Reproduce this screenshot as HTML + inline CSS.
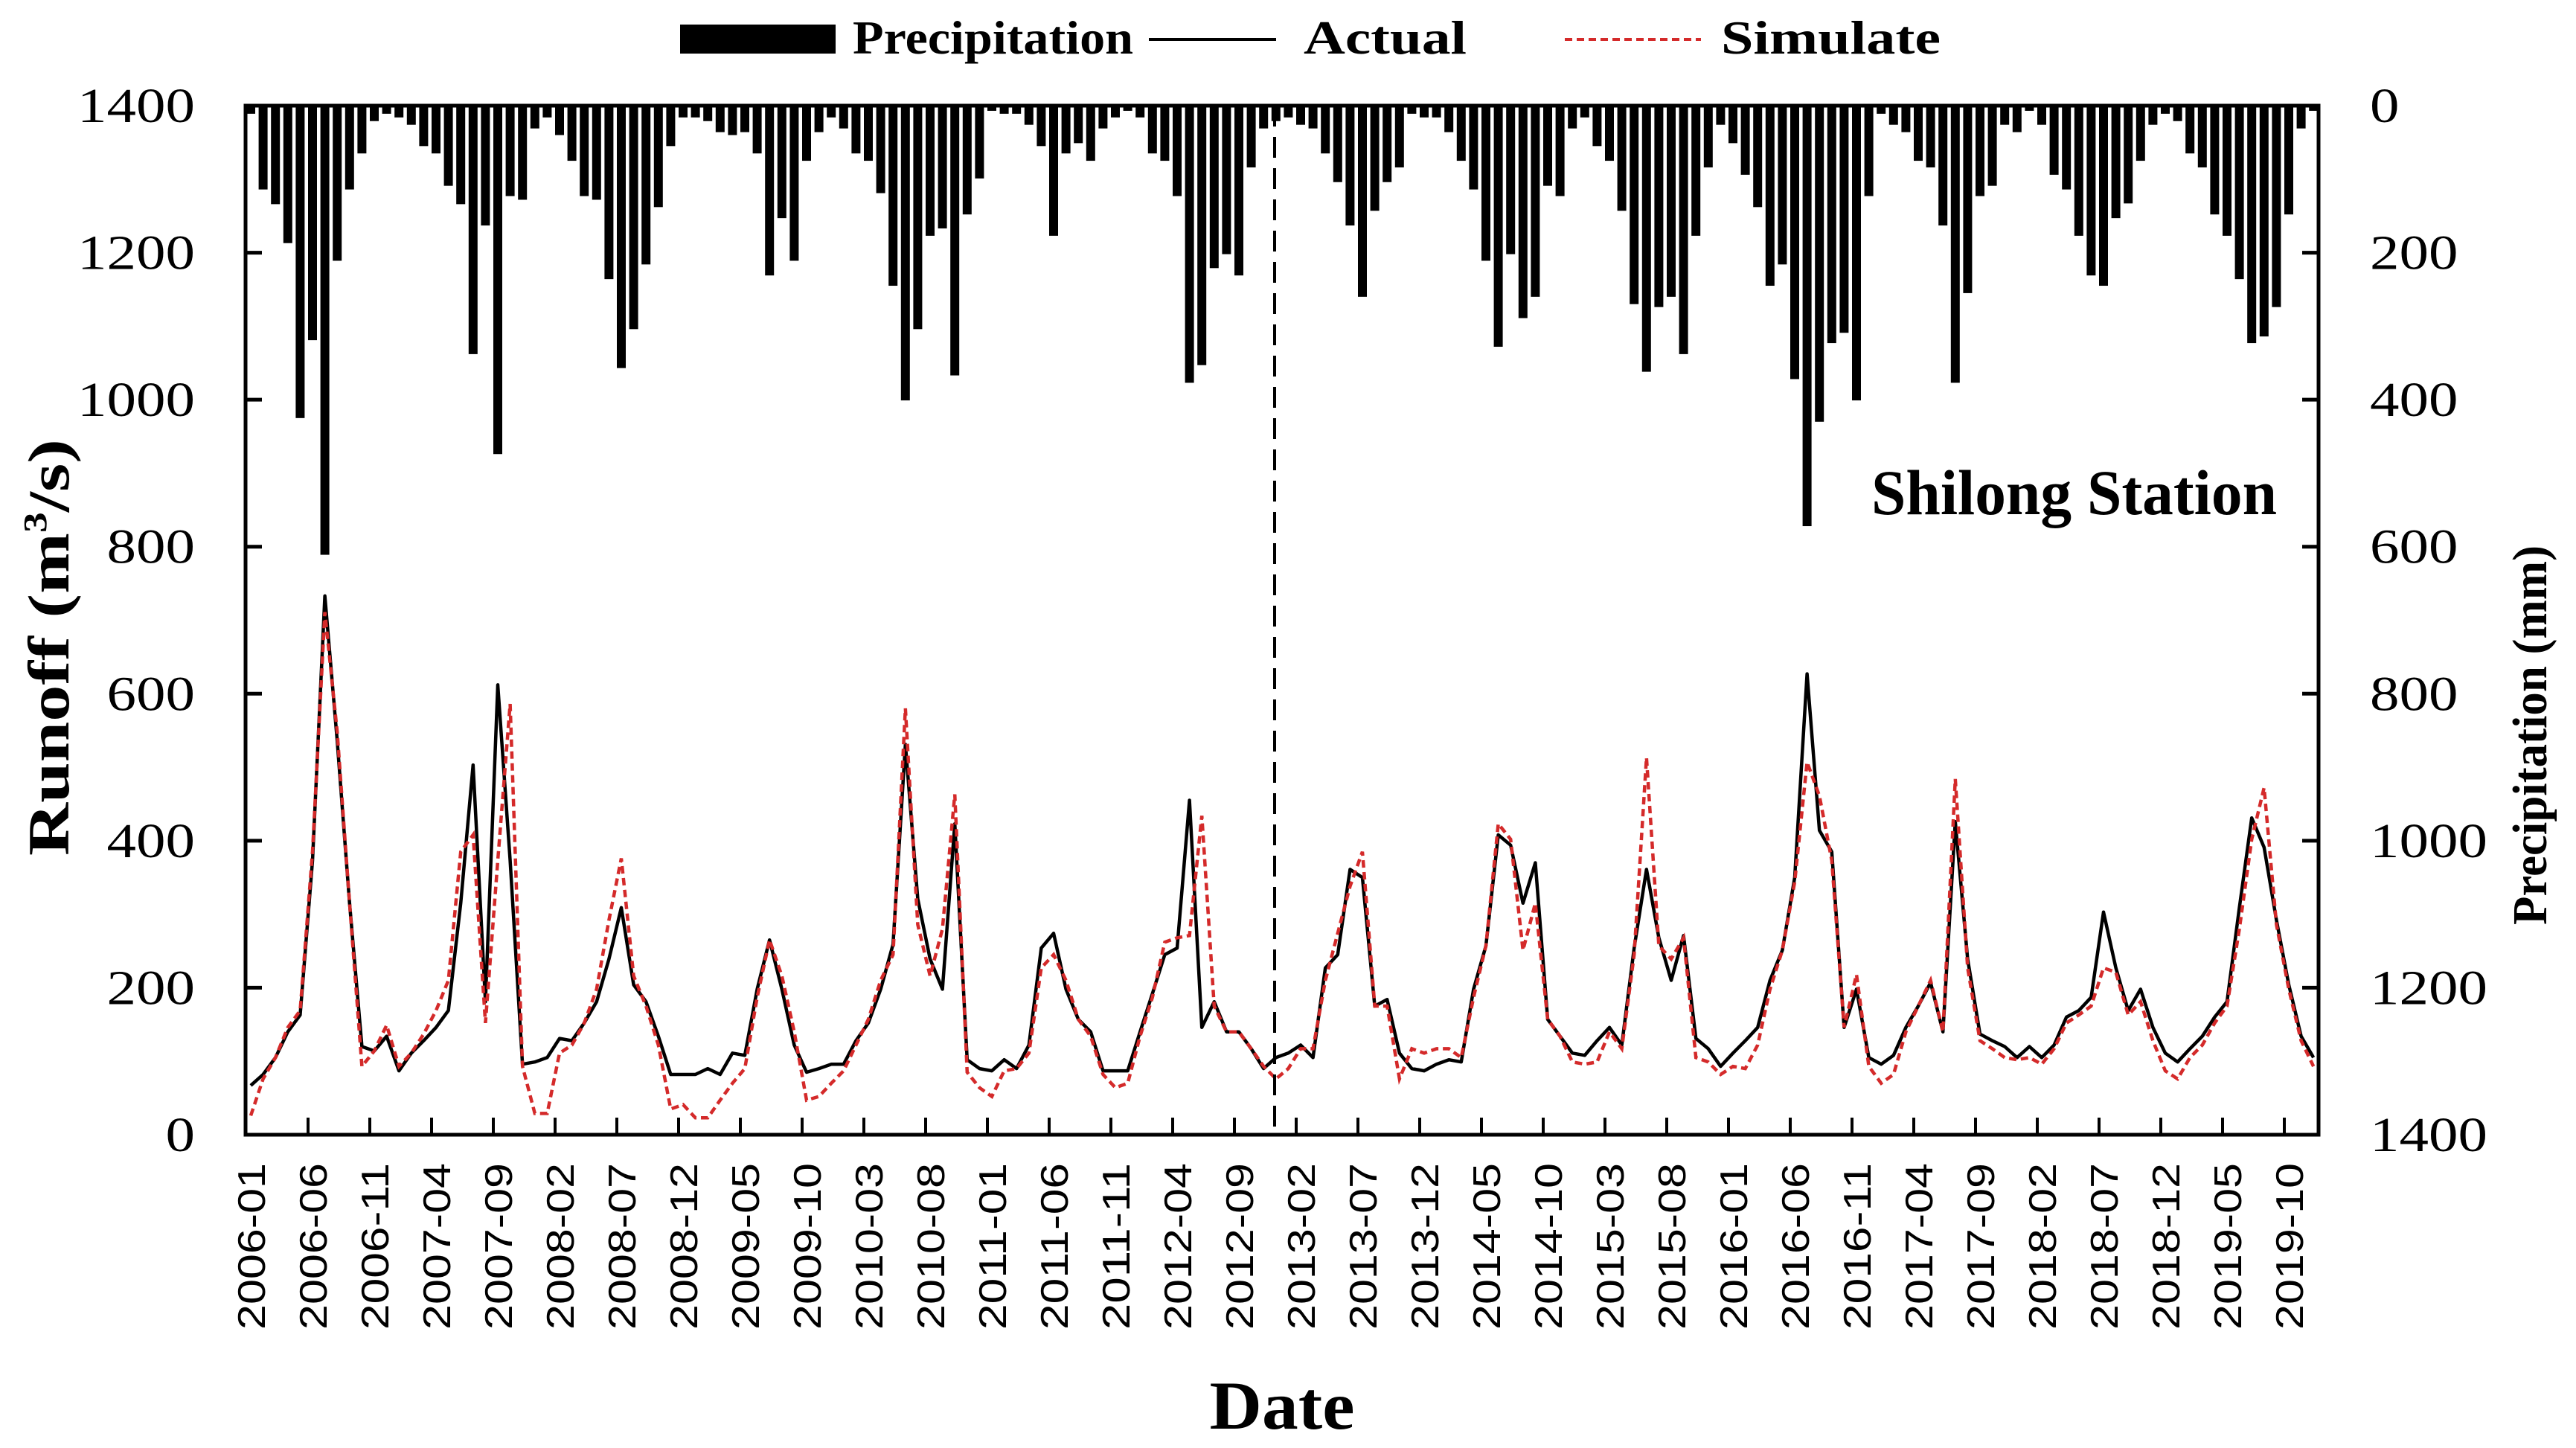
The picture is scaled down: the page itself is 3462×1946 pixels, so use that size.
<!DOCTYPE html>
<html><head><meta charset="utf-8">
<style>
html,body{margin:0;padding:0;background:#fff;}
svg{display:block;}
text{font-family:"Liberation Serif",serif;fill:#000;}
</style></head>
<body>
<svg id="chart" width="3462" height="1946" viewBox="0 0 3462 1946" xmlns="http://www.w3.org/2000/svg">
  <g id="bars"></g>
  <g id="lines"></g>
  <line x1="1713" y1="142" x2="1713" y2="1525" stroke="#000" stroke-width="4" stroke-dasharray="28,14"/>
  <g id="axes"></g>
  <text transform="translate(92,870) rotate(-90)" text-anchor="middle" font-size="78" font-weight="bold" textLength="560" lengthAdjust="spacingAndGlyphs">Runoff (m<tspan font-size="44" dy="-30">3</tspan><tspan dy="30">/s)</tspan></text>
  <text transform="translate(3422,988) rotate(-90)" text-anchor="middle" font-size="66" font-weight="bold" textLength="510" lengthAdjust="spacingAndGlyphs">Precipitation (mm)</text>
  <text x="1723" y="1920" text-anchor="middle" font-size="92" font-weight="bold" textLength="195" lengthAdjust="spacingAndGlyphs">Date</text>
  <text x="2515" y="691" font-size="86" font-weight="bold" textLength="545" lengthAdjust="spacingAndGlyphs">Shilong Station</text>
  <g>
    <rect x="914" y="33" width="209" height="39" fill="#000"/>
    <text x="1146" y="72" font-size="64" font-weight="bold" textLength="377" lengthAdjust="spacingAndGlyphs">Precipitation</text>
    <line x1="1544" y1="53" x2="1715" y2="53" stroke="#000" stroke-width="4"/>
    <text x="1752" y="72" font-size="64" font-weight="bold" textLength="219" lengthAdjust="spacingAndGlyphs">Actual</text>
    <line x1="2103" y1="53" x2="2286" y2="53" stroke="#d42a2a" stroke-width="4" stroke-dasharray="10,6"/>
    <text x="2313" y="72" font-size="64" font-weight="bold" textLength="295" lengthAdjust="spacingAndGlyphs">Simulate</text>
  </g>
</svg>
<script>
const startYear = 2006;
const precipitation = [11,114,134,187,425,319,611,211,114,65,21,11,16,26,55,65,109,134,338,163,474,123,128,31,16,40,75,123,128,236,357,304,216,138,55,16,16,21,36,40,36,65,231,153,211,75,36,16,31,65,75,119,245,401,304,177,
167,367,148,99,7,11,11,26,55,177,65,51,75,31,16,7,16,65,75,123,377,353,221,202,231,84,31,21,16,26,31,65,104,163,260,143,104,84,11,16,16,36,75,114,211,328,202,289,260,109,123,31,16,55,75,143,
270,362,274,260,338,177,84,26,51,94,138,245,216,372,572,430,323,309,401,123,11,26,36,75,84,163,377,255,123,109,26,36,7,26,94,114,177,231,245,153,133,75,26,11,21,65,84,148,177,236,323,314,274,148,31,7];
const actual = [67,82,105,140,163,373,733,536,315,120,114,134,87,111,128,146,169,315,503,181,612,373,96,99,105,131,128,152,181,239,309,204,181,134,82,82,82,90,82,111,108,198,265,198,122,85,90,96,96,128,152,198,259,531,321,239,
198,423,102,90,87,102,90,122,254,274,198,157,140,87,87,87,140,192,245,254,455,146,181,140,140,117,90,105,111,122,105,227,245,361,350,175,184,111,90,87,96,102,99,198,257,408,394,315,370,157,134,111,108,128,146,
122,254,361,268,210,271,131,117,93,111,128,146,210,251,350,627,414,385,146,198,105,96,108,146,175,207,140,426,239,137,128,120,105,120,105,122,160,169,187,303,227,169,198,146,111,99,117,134,160,181,309,431,391,292,204,134,105];
const simulate = [26,76,105,146,169,385,711,548,315,93,114,149,93,111,137,169,210,385,408,152,373,586,93,29,29,111,122,152,198,292,376,216,175,122,35,41,23,23,47,70,90,187,265,216,140,47,52,70,87,122,157,210,245,580,286,216,
280,463,85,64,52,87,90,111,227,245,210,157,134,82,64,70,134,187,262,268,271,434,175,140,140,117,93,76,90,117,117,210,274,338,385,175,175,76,117,111,117,117,105,187,257,423,402,251,315,157,134,99,96,99,140,
117,245,513,257,239,268,105,99,82,93,90,122,198,251,344,507,461,373,146,218,93,70,82,140,175,210,140,484,227,128,117,105,102,105,96,117,152,163,175,227,221,163,181,128,87,76,105,122,152,175,280,402,472,286,198,128,93];
const runoffTicks = [0,200,400,600,800,1000,1200,1400];
const precipTicks = [0,200,400,600,800,1000,1200,1400];

const NS = "http://www.w3.org/2000/svg";
const L = 330, R = 3116, T = 142, B = 1525;
const x0 = 337, dx = 16.6;
function xPos(i){ return x0 + dx * i; }
function yRun(v){ return B - (B - T) * v / 1400; }
function yPre(v){ return T + (B - T) * v / 1400; }
function mk(tag, attrs, parent){
  const e = document.createElementNS(NS, tag);
  for (const k in attrs) e.setAttribute(k, attrs[k]);
  parent.appendChild(e);
  return e;
}

const barsG = document.getElementById('bars');
precipitation.forEach((v, i) => {
  const r = mk('rect', {x: xPos(i) - 6, y: T, width: 12, height: yPre(v) - T, fill: '#000'}, barsG);
  
  
});

const linesG = document.getElementById('lines');
const ptsA = actual.map((v, i) => xPos(i).toFixed(1) + ',' + yRun(v).toFixed(1)).join(' ');
const ptsS = simulate.map((v, i) => xPos(i).toFixed(1) + ',' + yRun(v).toFixed(1)).join(' ');
const pa = mk('polyline', {points: ptsA, fill: 'none', stroke: '#000', 'stroke-width': 4.5, 'stroke-linejoin': 'round'}, linesG);


const ps = mk('polyline', {points: ptsS, fill: 'none', stroke: '#d42a2a', 'stroke-width': 4.5, 'stroke-dasharray': '10,6'}, linesG);



const axesG = document.getElementById('axes');
const frame = mk('rect', {x: L, y: T, width: R - L, height: B - T, fill: 'none', stroke: '#000', 'stroke-width': 5}, axesG);



runoffTicks.forEach(v => {
  const y = yRun(v);
  const t = mk('line', {x1: L, y1: y, x2: L + 22, y2: y, stroke: '#000', 'stroke-width': 5}, axesG);
  
  
  const s = String(v);
  const lb = mk('text', {x: 262, y: y + 22, 'text-anchor': 'end', 'font-size': 66, textLength: s.length * 39.5, lengthAdjust: 'spacingAndGlyphs'}, axesG);
  lb.textContent = s;
  
  
});
precipTicks.forEach(v => {
  const y = yPre(v);
  const t = mk('line', {x1: R - 22, y1: y, x2: R, y2: y, stroke: '#000', 'stroke-width': 5}, axesG);
  
  
  const s = String(v);
  const lb = mk('text', {x: 3185, y: y + 22, 'text-anchor': 'start', 'font-size': 66, textLength: s.length * 39.5, lengthAdjust: 'spacingAndGlyphs'}, axesG);
  lb.textContent = s;
  
  
});
for (let i = 0; i < precipitation.length; i += 5) {
  const xt = xPos(i) - 6;
  if (i > 0) {
    const t = mk('line', {x1: xt, y1: B, x2: xt, y2: B - 23, stroke: '#000', 'stroke-width': 4}, axesG);
    
    
  }
  const yr = startYear + Math.floor(i / 12);
  const mo = (i % 12) + 1;
  const lb = mk('text', {transform: 'translate(' + (xPos(i) + 2) + ',1563) rotate(-90)', 'text-anchor': 'end', 'dominant-baseline': 'central', 'font-size': 52, textLength: 224, lengthAdjust: 'spacingAndGlyphs', style: 'font-family:"Liberation Sans",sans-serif'}, axesG);
  lb.textContent = yr + '-' + (mo < 10 ? '0' + mo : mo);
  
  
}
</script>
</body></html>
